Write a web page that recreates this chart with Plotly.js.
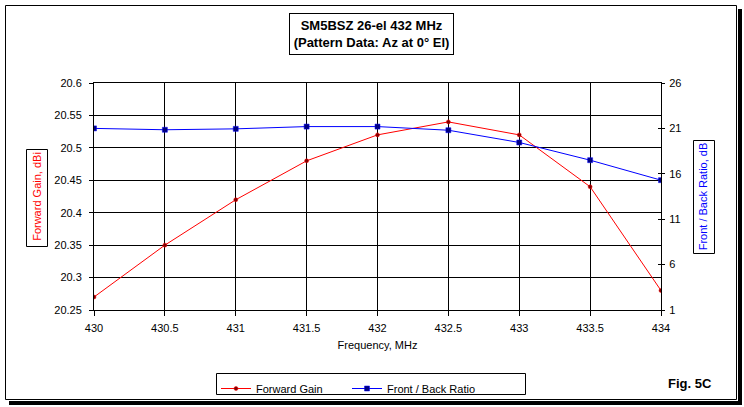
<!DOCTYPE html>
<html>
<head>
<meta charset="utf-8">
<script src="https://cdn.plot.ly/plotly-3.0.1.min.js"></script>
<style>
  html, body { margin: 0; padding: 0; background: #ffffff; }
  #chart { width: 744px; height: 407px; }
</style>
</head>
<body>
<div id="chart"></div>
<script>
// ---- data ----
var freq = [430, 430.5, 431, 431.5, 432, 432.5, 433, 433.5, 434];
var forwardGain = [20.27, 20.35, 20.42, 20.48, 20.52, 20.54, 20.52, 20.44, 20.28];
var frontBack = [21.0, 20.85, 20.95, 21.2, 21.2, 20.8, 19.45, 17.5, 15.3];
var freqTicks = [430, 430.5, 431, 431.5, 432, 432.5, 433, 433.5, 434];
var gainTicks = [20.25, 20.3, 20.35, 20.4, 20.45, 20.5, 20.55, 20.6];
var gainTickText = ['20.25', '20.3', '20.35', '20.4', '20.45', '20.5', '20.55', '20.6'];
var fbTicks = [1, 6, 11, 16, 21, 26];
var fbTickText = ['1', '6', '11', '16', '21', '26'];

// ---- geometry helpers (pixel -> paper / container) ----
var W = 744, H = 407;
var L = 94, R = 661, T = 83, B = 310;
function px(x) { return (x - L) / (R - L); }
function py(y) { return (B - y) / (B - T); }
function cx(x) { return x / W; }
function cy(y) { return 1 - y / H; }

var FONT = 'Arial, "Liberation Sans", sans-serif';

var traces = [
  {
    x: freq, y: forwardGain, name: 'Forward Gain', type: 'scatter', mode: 'lines+markers',
    line: { color: '#ff0000', width: 1 },
    marker: { symbol: 'circle', size: 4, color: '#800000', line: { color: '#ff0000', width: 0.5 } },
    xaxis: 'x', yaxis: 'y'
  },
  {
    x: freq, y: frontBack, name: 'Front / Back Ratio', type: 'scatter', mode: 'lines+markers',
    line: { color: '#0000ff', width: 1 },
    marker: { symbol: 'square', size: 5, color: '#000080', line: { color: '#0000ff', width: 0.5 } },
    xaxis: 'x', yaxis: 'y2'
  },
  // empty helper trace so the inner tick marks of the right axis are drawn
  { x: [], y: [], type: 'scatter', mode: 'lines', showlegend: false, hoverinfo: 'skip', xaxis: 'x', yaxis: 'y3' }
];

var layout = {
  width: W, height: H,
  margin: { l: L, r: W - R, t: T, b: H - B, pad: 0, autoexpand: false },
  paper_bgcolor: '#ffffff', plot_bgcolor: '#ffffff',
  font: { family: FONT, size: 11, color: '#000000' },
  showlegend: true,
  legend: {
    orientation: 'h', xref: 'container', yref: 'container',
    x: cx(216), y: cy(374), xanchor: 'left', yanchor: 'top',
    bgcolor: 'rgba(0,0,0,0)', borderwidth: 0,
    font: { family: FONT, size: 11, color: '#000000' },
    itemwidth: 30, entrywidth: 86, entrywidthmode: 'pixels',
    tracegroupgap: 0
  },
  xaxis: {
    range: [430, 434], tickvals: freqTicks, ticktext: freqTicks.map(String),
    showgrid: true, gridcolor: '#000000', gridwidth: 1,
    showline: true, linecolor: '#000000', linewidth: 1, mirror: true,
    ticks: 'outside', ticklen: 5, tickcolor: '#000000', tickwidth: 1,
    ticklabelstandoff: 3,
    zeroline: false, fixedrange: true, automargin: false,
    tickfont: { family: FONT, size: 11, color: '#000000' },
    title: { text: 'Frequency, MHz', font: { family: FONT, size: 11, color: '#000000' }, standoff: 8 }
  },
  yaxis: {
    range: [20.25, 20.6], tickvals: gainTicks, ticktext: gainTickText,
    showgrid: true, gridcolor: '#000000', gridwidth: 1,
    showline: true, linecolor: '#000000', linewidth: 1,
    ticks: 'outside', ticklen: 4, tickcolor: '#000000', tickwidth: 1,
    ticklabelstandoff: 5,
    zeroline: false, fixedrange: true, automargin: false,
    tickfont: { family: FONT, size: 11, color: '#000000' },
    title: { text: 'Forward Gain, dBi', font: { family: FONT, size: 11, color: '#ff0000' }, standoff: 10 }
  },
  yaxis2: {
    range: [1, 26], tickvals: fbTicks, ticktext: fbTickText,
    overlaying: 'y', side: 'right', anchor: 'x',
    showgrid: false, showline: true, linecolor: '#000000', linewidth: 1,
    ticks: 'outside', ticklen: 3, tickcolor: '#000000', tickwidth: 1,
    ticklabelstandoff: 2,
    zeroline: false, fixedrange: true, automargin: false,
    tickfont: { family: FONT, size: 11, color: '#000000' },
    title: { text: 'Front / Back Ratio, dB', font: { family: FONT, size: 11, color: '#0000ff' }, standoff: 18 }
  },
  yaxis3: {
    range: [1, 26], tickvals: fbTicks, overlaying: 'y', side: 'right', anchor: 'x',
    showgrid: false, showline: false, showticklabels: false,
    ticks: 'inside', ticklen: 3, tickcolor: '#000000', tickwidth: 1,
    zeroline: false, fixedrange: true, automargin: false
  },
  shapes: [
    // outer frame
    { type: 'rect', xref: 'paper', yref: 'paper', x0: px(5.5), x1: px(736.5), y0: py(5.5), y1: py(399.5),
      line: { color: '#000000', width: 1 }, fillcolor: 'rgba(0,0,0,0)', layer: 'below' },
    // shadow right
    { type: 'rect', xref: 'paper', yref: 'paper', x0: px(738), x1: px(742), y0: py(9), y1: py(405),
      line: { width: 0 }, fillcolor: '#000000' },
    // shadow bottom
    { type: 'rect', xref: 'paper', yref: 'paper', x0: px(9), x1: px(742), y0: py(401), y1: py(405),
      line: { width: 0 }, fillcolor: '#000000' },
    // legend box
    { type: 'rect', xref: 'paper', yref: 'paper', x0: px(216.5), x1: px(525.5), y0: py(373.5), y1: py(394.5),
      line: { color: '#000000', width: 1 }, fillcolor: 'rgba(0,0,0,0)' },
    // left y-title box
    { type: 'rect', xref: 'paper', yref: 'paper', x0: px(26.5), x1: px(47.5), y0: py(149.5), y1: py(246.5),
      line: { color: '#000000', width: 1 }, fillcolor: 'rgba(0,0,0,0)' },
    // right y-title box
    { type: 'rect', xref: 'paper', yref: 'paper', x0: px(693.5), x1: px(714.5), y0: py(140.5), y1: py(253.5),
      line: { color: '#000000', width: 1 }, fillcolor: 'rgba(0,0,0,0)' }
  ],
  annotations: [
    { xref: 'paper', yref: 'paper', x: px(371.5), y: py(34), xanchor: 'center', yanchor: 'middle',
      text: '<b>SM5BSZ 26-el 432 MHz</b><br><b>(Pattern Data: Az at 0° El)</b>', showarrow: false,
      font: { family: FONT, size: 13, color: '#000000' },
      bordercolor: '#000000', borderwidth: 1, borderpad: 1, width: 161, height: 38, bgcolor: '#ffffff' },
    { xref: 'paper', yref: 'paper', x: px(689.5), y: py(384), xanchor: 'center', yanchor: 'middle',
      text: '<b>Fig. 5C</b>', showarrow: false,
      font: { family: FONT, size: 13, color: '#000000' } }
  ]
};

Plotly.newPlot('chart', traces, layout, { displayModeBar: false, staticPlot: true });
</script>
</body>
</html>
